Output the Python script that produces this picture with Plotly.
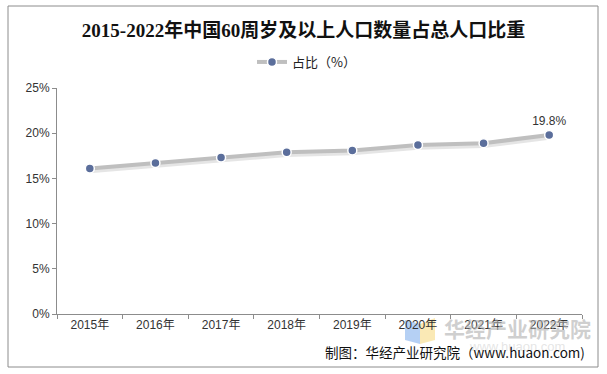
import plotly.graph_objects as go

years = ["2015年", "2016年", "2017年", "2018年", "2019年", "2020年", "2021年", "2022年"]
share = [16.1, 16.7, 17.3, 17.9, 18.1, 18.7, 18.9, 19.8]
labels = ["", "", "", "", "", "", "", "19.8%"]
y_ticks = [0, 5, 10, 15, 20, 25]
y_tick_text = ["0%", "5%", "10%", "15%", "20%", "25%"]

W, H = 607, 374
L, R, T, B = 57, 25, 88, 60
pw, ph = W - L - R, H - T - B

def px(x):
    return (x - L) / pw

def py(y):
    return (H - B - y) / ph

fig = go.Figure()

# shadow line
fig.add_trace(go.Scatter(
    x=years, y=[v - 0.25 for v in share], mode="lines",
    line=dict(color="rgba(0,0,0,0.10)", width=5),
    hoverinfo="skip", showlegend=False,
))
fig.add_trace(go.Scatter(
    x=years, y=share, mode="lines+markers+text", name="占比（%）",
    line=dict(color="#BFBFBF", width=4),
    marker=dict(color="#5B6E9B", size=9, line=dict(color="white", width=1.5)),
    text=labels, textposition="top center",
    textfont=dict(family="Arial, Liberation Sans, sans-serif", size=12, color="#333333"),
    cliponaxis=False,
))

fig.update_layout(
    width=W, height=H,
    margin=dict(l=L, r=R, t=T, b=B, autoexpand=False),
    paper_bgcolor="white", plot_bgcolor="white",
    title=dict(
        text="<b>2015-2022年中国60周岁及以上人口数量占总人口比重</b>",
        x=0.5, xanchor="center", y=1 - 30 / H, yanchor="middle",
        font=dict(family="Liberation Serif, Noto Sans CJK SC, serif", size=19, color="#111111"),
    ),
    showlegend=True,
    legend=dict(
        orientation="h", xref="container", yref="container",
        x=252 / W, xanchor="left", y=1 - 62 / H, yanchor="middle",
        font=dict(family="Noto Sans CJK SC, sans-serif", size=13, color="#222222"),
        itemwidth=30, bgcolor="rgba(0,0,0,0)",
    ),
    xaxis=dict(
        type="category", showgrid=False, showline=True, linecolor="#8C8C8C", linewidth=1,
        ticks="outside", tickson="boundaries", ticklen=4, tickcolor="#8C8C8C",
        tickfont=dict(family="Arial, Liberation Sans, Noto Sans CJK SC, sans-serif", size=12, color="#333333"),
        range=[-0.5, 7.5], fixedrange=True,
    ),
    yaxis=dict(
        range=[0, 25], tickvals=y_ticks, ticktext=y_tick_text,
        showgrid=False, showline=True, linecolor="#8C8C8C", linewidth=1,
        ticks="outside", ticklen=4, tickcolor="#8C8C8C",
        tickfont=dict(family="Arial, Liberation Sans, sans-serif", size=12, color="#333333"),
        zeroline=False, fixedrange=True,
    ),
)

# outer border
fig.add_shape(type="rect", xref="paper", yref="paper",
              x0=px(8), x1=px(598), y0=py(367), y1=py(6),
              line=dict(color="#8C8C8C", width=1), fillcolor="rgba(0,0,0,0)", layer="below")

# watermark logo
fig.add_shape(type="path", xref="paper", yref="paper",
              path=f"M {px(405)} {py(320)} L {px(420)} {py(324)} L {px(420)} {py(344)} L {px(405)} {py(340)} Z",
              fillcolor="rgba(120,170,235,0.55)", line=dict(width=0), layer="below")
fig.add_shape(type="path", xref="paper", yref="paper",
              path=f"M {px(420)} {py(324)} L {px(435)} {py(318)} L {px(435)} {py(340)} L {px(420)} {py(344)} Z",
              fillcolor="rgba(245,215,120,0.55)", line=dict(width=0), layer="below")

fig.add_annotation(text="<b>华经产业研究院</b>", xref="paper", yref="paper",
                   x=px(517), y=py(328), xanchor="center", yanchor="middle", showarrow=False,
                   font=dict(family="Noto Sans CJK SC, sans-serif", size=21, color="rgba(175,175,175,0.6)"))
fig.add_annotation(text="www.huaon.com", xref="paper", yref="paper",
                   x=px(517), y=py(346), xanchor="center", yanchor="middle", showarrow=False,
                   font=dict(family="Arial, sans-serif", size=13, color="rgba(190,190,190,0.4)"))

# source
fig.add_annotation(text="制图：华经产业研究院（www.huaon.com)", xref="paper", yref="paper",
                   x=px(587), y=py(352), xanchor="right", yanchor="middle", showarrow=False,
                   font=dict(family="Noto Sans CJK SC, sans-serif", size=13.5, color="#111111"))

fig.write_html("out.html", config={"displayModeBar": False},
               post_script="document.body.style.margin='0';document.body.style.overflow='hidden';")
